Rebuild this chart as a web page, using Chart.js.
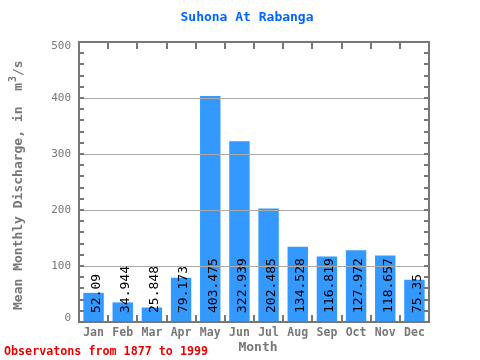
<!DOCTYPE html>
<html><head><meta charset="utf-8">
<script src="https://cdn.jsdelivr.net/npm/chart.js@4/dist/chart.umd.min.js"></script>
<style>html,body{margin:0;padding:0;background:#fff}#wrap{width:480px;height:360px;position:relative}</style>
</head><body><div id="wrap"><canvas id="c" width="480" height="360"></canvas></div>
<script>
const months = ["Jan","Feb","Mar","Apr","May","Jun","Jul","Aug","Sep","Oct","Nov","Dec"];
const discharge = [52.09,34.944,25.848,79.173,403.475,322.939,202.485,134.528,116.819,127.972,118.657,75.35];
const valueLabels = ["52.09","34.944","25.848","79.173","403.475","322.939","202.485","134.528","116.819","127.972","118.657","75.35"];
const yTicks = [0,100,200,300,400,500];
const titleText = "Suhona At Rabanga";
const footerText = "Observatons from 1877 to 1999";
const MONO = '"DejaVu Sans Mono", "Liberation Mono", monospace';

const overlay = {
  id: 'overlay',
  afterDatasetsDraw(chart) {
    const {ctx, chartArea: a, scales: {x, y}} = chart;
    ctx.save();
    ctx.strokeStyle = '#aaaaaa'; ctx.lineWidth = 1;
    [100,200,300,400].forEach(v => {
      const py = Math.round(y.getPixelForValue(v)) + 0.5;
      ctx.beginPath(); ctx.moveTo(a.left, py); ctx.lineTo(a.right, py); ctx.stroke();
    });
    ctx.fillStyle = '#000';
    ctx.font = '13px ' + MONO;
    ctx.textAlign = 'left'; ctx.textBaseline = 'middle';
    discharge.forEach((v, i) => {
      const px = x.getPixelForValue(i);
      ctx.save();
      ctx.translate(px + 3, y.getPixelForValue(0) - 9);
      ctx.rotate(-Math.PI/2);
      ctx.fillText(valueLabels[i], 0, 0);
      ctx.restore();
    });
    ctx.strokeStyle = '#777777'; ctx.lineWidth = 2;
    ctx.strokeRect(a.left, a.top, a.right - a.left, a.bottom - a.top);
    for (let v = 0; v <= 500; v += 20) {
      const py = Math.round(y.getPixelForValue(v));
      ctx.beginPath(); ctx.moveTo(a.left, py); ctx.lineTo(a.left + 5, py); ctx.stroke();
      ctx.beginPath(); ctx.moveTo(a.right, py); ctx.lineTo(a.right - 5, py); ctx.stroke();
    }
    const w = (a.right - a.left) / months.length;
    for (let i = 1; i < months.length; i++) {
      const px = Math.round(a.left + i * w);
      ctx.beginPath(); ctx.moveTo(px, a.top); ctx.lineTo(px, a.top + 7); ctx.stroke();
      ctx.beginPath(); ctx.moveTo(px, a.bottom); ctx.lineTo(px, a.bottom - 7); ctx.stroke();
    }
    ctx.restore();
  },
  afterDraw(chart) {
    const {ctx, chartArea: a, scales: {y}} = chart;
    ctx.save();
    ctx.fillStyle = '#777777';
    ctx.font = '11px ' + MONO;
    ctx.textAlign = 'right'; ctx.textBaseline = 'middle';
    yTicks.forEach(v => {
      let py = y.getPixelForValue(v);
      if (v === 500) py += 4;
      if (v === 0) py -= 4;
      ctx.fillText(String(v), 71, py);
    });
    ctx.fillStyle = '#0066ff';
    ctx.font = 'bold 13px ' + MONO;
    ctx.textAlign = 'center';
    ctx.fillText(titleText, 247, 18);
    ctx.fillStyle = '#777777';
    ctx.font = 'bold 13px ' + MONO;
    ctx.fillText('Month', 258, 348);
    ctx.fillStyle = '#ee0000';
    ctx.font = 'bold 11.7px ' + MONO;
    ctx.textAlign = 'left';
    ctx.fillText(footerText, 4, 352);
    ctx.fillStyle = '#777777';
    ctx.translate(19, 310);
    ctx.rotate(-Math.PI/2);
    ctx.textAlign = 'left';
    ctx.font = 'bold 13px ' + MONO;
    const main = 'Mean Monthly Discharge, in  m';
    ctx.fillText(main, 0, 0);
    let off = ctx.measureText(main).width;
    ctx.font = 'bold 10px ' + MONO;
    ctx.fillText('3', off + 1, -6);
    off += ctx.measureText('3').width + 1;
    ctx.font = 'bold 13px ' + MONO;
    ctx.fillText('/s', off, 0);
    ctx.restore();
  }
};

new Chart(document.getElementById('c'), {
  type: 'bar',
  data: { labels: months, datasets: [{ data: discharge, backgroundColor: '#3399ff', borderWidth: 0, barPercentage: 0.7, categoryPercentage: 1.0 }] },
  options: {
    responsive: false, animation: false, devicePixelRatio: 1,
    layout: { padding: { left: 0, right: 51, top: 42, bottom: 0 } },
    plugins: { legend: { display: false }, title: { display: false }, tooltip: { enabled: false } },
    scales: {
      x: {
        grid: { display: false, drawTicks: false }, border: { display: false },
        ticks: { color: '#777777', font: { family: MONO, size: 11.5, weight: 'bold' }, padding: 4, maxRotation: 0 },
        afterFit(s) { s.height = 38; }
      },
      y: {
        min: 0, max: 500,
        afterBuildTicks(s) { s.ticks = yTicks.map(v => ({ value: v })); },
        grid: { display: false, drawTicks: false }, border: { display: false },
        ticks: { display: false },
        afterFit(s) { s.width = 79; }
      }
    }
  },
  plugins: [overlay]
});
</script></body></html>
